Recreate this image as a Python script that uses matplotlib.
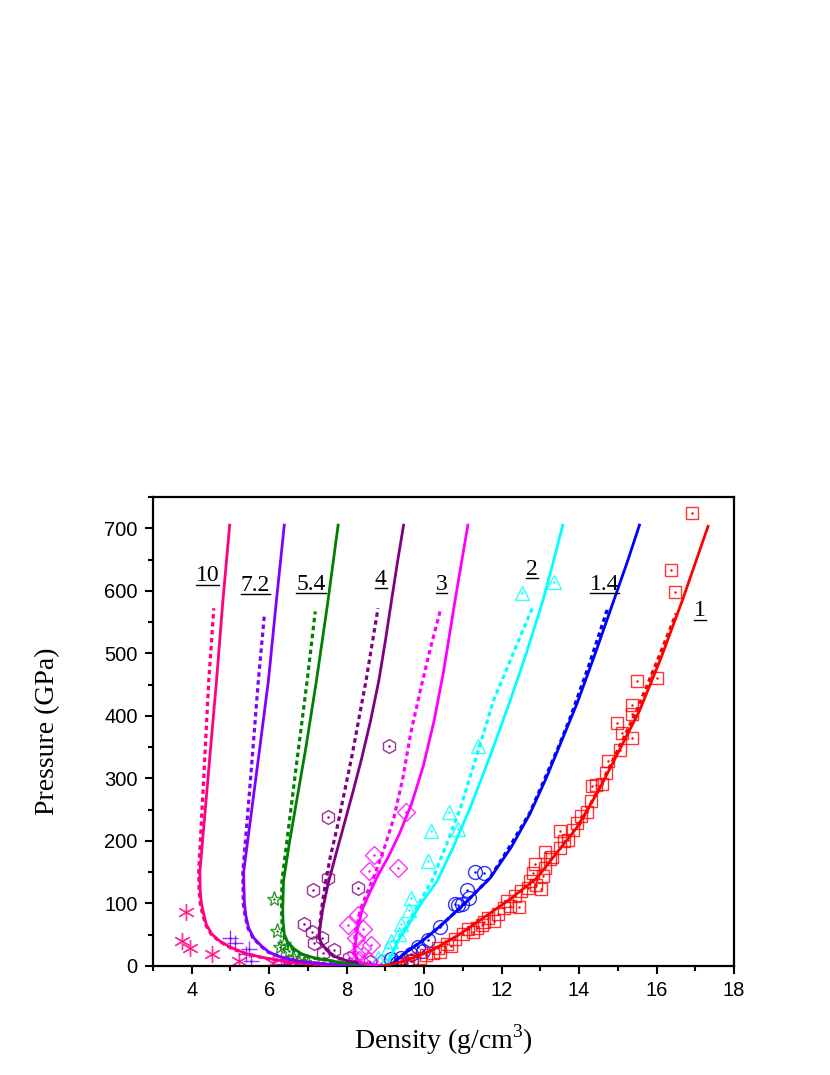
import numpy as np
import matplotlib.pyplot as plt
from matplotlib.lines import Line2D
from matplotlib.ticker import MultipleLocator

plt.rcParams['mathtext.fontset'] = 'custom'
plt.rcParams['mathtext.rm'] = 'Liberation Serif'

# porosity labels, colours and symbols for each series (m = 10 ... 1)
labels = ['10', '7.2', '5.4', '4', '3', '2', '1.4', '1']
colors = ['#FF0080', '#8000FF', '#008000', '#800080', '#FF00FF', '#00FFFF', '#0000FF', '#FF0000']
markers = [(6, 2, 0), '+', '*', 'h', 'D', '^', 'o', 's']
msizes = [12, 11, 11, 10, 9, 10, 10, 9]

# model curves (solid) - density g/cm3, pressure GPa
m10_rho = [8.9, 8.0, 7.2, 6.57, 5.88, 5.45, 5.03, 4.72, 4.52, 4.38, 4.31, 4.25, 4.22, 4.21, 4.35, 4.49, 4.64, 4.80, 4.98]
m10_p = [0, 1, 3, 6, 13, 19, 29, 40, 51, 66, 83, 100, 120, 150, 250, 350, 456, 580, 705]
m72_rho = [8.9, 7.5, 6.8, 6.31, 6.0, 5.80, 5.6, 5.47, 5.40, 5.36, 5.34, 5.55, 5.76, 5.98, 6.18, 6.39]
m72_p = [0, 3, 7, 14, 22, 32, 45, 61, 80, 100, 150, 250, 350, 456, 580, 705]
m54_rho = [8.9, 7.9, 7.16, 6.85, 6.65, 6.48, 6.39, 6.36, 6.35, 6.37, 6.53, 6.67, 6.95, 7.22, 7.51, 7.78]
m54_p = [0, 5, 13, 19, 27, 38, 51, 70, 90, 136, 200, 250, 350, 456, 580, 705]
m4_rho = [8.9, 8.03, 7.7, 7.5, 7.36, 7.29, 7.31, 7.38, 7.52, 7.73, 7.95, 8.17, 8.38, 8.61, 8.83, 9.0, 9.16, 9.31, 9.47]
m4_p = [0, 8, 15, 25, 35, 45, 60, 90, 131, 180, 230, 280, 330, 390, 456, 520, 585, 645, 705]
m3_rho = [8.9, 8.35, 8.20, 8.25, 8.40, 8.60, 8.81, 9.08, 9.36, 9.68, 9.98, 10.25, 10.50, 10.80, 11.13]
m3_p = [0, 5, 20, 50, 90, 118, 145, 175, 211, 260, 320, 390, 470, 585, 705]
m2_rho = [9.0, 9.06, 9.32, 9.62, 9.91, 10.34, 10.75, 11.19, 11.7, 12.22, 12.65, 13.07, 13.33, 13.58]
m2_p = [0, 3, 40, 68, 99, 136, 190, 253, 335, 424, 502, 585, 645, 705]
m14_rho = [9.1, 9.32, 9.58, 9.95, 10.42, 11.05, 11.71, 12.25, 12.73, 13.15, 13.55, 13.95, 14.42, 14.90, 15.24, 15.56]
m14_p = [0, 11, 24, 40, 64, 100, 141, 190, 243, 300, 360, 420, 500, 585, 645, 705]
m1_rho = [8.93, 9.5, 10.17, 10.9, 11.6, 12.2, 12.9, 13.4, 13.94, 14.5, 15.0, 15.56, 16.1, 16.67, 17.33]
m1_p = [0, 8, 24, 50, 80, 106, 140, 179, 221, 280, 340, 408, 490, 585, 703]

# second model (dotted)
m10d_rho = [8.9, 8.0, 7.2, 6.55, 5.85, 5.42, 5.0, 4.70, 4.50, 4.36, 4.28, 4.22, 4.19, 4.18, 4.31, 4.44, 4.57]
m10d_p = [0, 1, 3, 6, 13, 19, 29, 40, 51, 66, 83, 100, 120, 150, 300, 456, 572]
m72d_rho = [8.9, 7.5, 6.8, 6.3, 5.98, 5.78, 5.58, 5.45, 5.38, 5.33, 5.32, 5.52, 5.72, 5.88]
m72d_p = [0, 3, 7, 14, 22, 32, 45, 61, 80, 100, 150, 300, 456, 564]
m54d_rho = [8.9, 7.9, 7.1, 6.82, 6.6, 6.45, 6.36, 6.33, 6.32, 6.33, 6.66, 6.98, 7.19]
m54d_p = [0, 5, 13, 19, 27, 38, 51, 70, 90, 136, 300, 456, 567]
m4d_rho = [8.9, 8.0, 7.68, 7.5, 7.35, 7.29, 7.30, 7.35, 7.45, 7.58, 7.75, 7.95, 8.15, 8.33, 8.50, 8.81]
m4d_p = [0, 8, 15, 25, 35, 45, 60, 90, 131, 175, 220, 280, 340, 400, 456, 572]
m3d_rho = [8.9, 8.3, 8.18, 8.22, 8.35, 8.55, 8.75, 8.98, 9.22, 9.45, 9.65, 9.90, 10.15, 10.42]
m3d_p = [0, 5, 20, 50, 90, 120, 150, 190, 237, 300, 371, 440, 505, 569]
m2d_rho = [9.0, 9.05, 9.3, 9.58, 9.85, 10.2, 10.55, 10.94, 11.35, 11.79, 12.3, 12.79]
m2d_p = [0, 3, 40, 68, 99, 136, 190, 253, 335, 424, 500, 572]
m14d_rho = [9.1, 9.3, 9.58, 9.95, 10.42, 11.05, 11.7, 12.22, 12.73, 13.12, 13.46, 13.76, 14.25, 14.74]
m14d_p = [0, 11, 24, 40, 64, 100, 141, 192, 245, 300, 349, 395, 480, 572]
m1d_rho = [14.0, 14.5, 15.0, 15.5, 16.0, 16.51]
m1d_p = [225, 282, 345, 410, 485, 564]

# experimental points
e10_rho = [3.85, 3.75, 3.95, 4.52, 5.21, 6.11, 6.49, 6.7, 6.9]
e10_p = [87, 40, 29, 19, 8, 5, 3, 3, 3]
e72_rho = [4.98, 5.11, 5.47, 5.41, 5.54, 6.31, 6.39]
e72_p = [44, 37, 27, 19, 8, 10, 3]
e54_rho = [6.13, 6.21, 6.37, 6.29, 6.52, 6.62, 6.75, 7.01, 6.9]
e54_p = [107, 56, 35, 30, 24, 13, 8, 3, 5]
e4_rho = [9.09, 7.52, 7.52, 7.14, 8.29, 6.91, 7.11, 7.37, 7.16, 7.68, 7.39, 8.06, 8.60, 7.42]
e4_p = [351, 239, 141, 121, 125, 67, 54, 44, 37, 26, 21, 13, 6, 3]
e3_rho = [9.52, 8.70, 8.58, 9.32, 8.29, 8.04, 8.42, 8.24, 8.39, 8.63, 8.24, 8.32, 8.58, 8.9]
e3_p = [247, 178, 152, 157, 82, 66, 59, 45, 29, 34, 19, 10, 8, 4]
e2_rho = [12.53, 13.35, 11.40, 10.63, 10.19, 10.88, 10.09, 9.65, 9.60, 9.40, 9.35, 9.14, 9.06, 8.81, 9.0]
e2_p = [596, 614, 352, 247, 216, 219, 168, 109, 90, 67, 51, 40, 29, 13, 5]
e14_rho = [11.32, 11.55, 11.12, 11.17, 10.81, 10.99, 10.88, 10.42, 10.1, 9.83, 9.96, 9.65, 9.40, 9.65, 9.14, 9.3]
e14_p = [151, 148, 121, 109, 99, 99, 98, 62, 41, 30, 24, 19, 13, 8, 11, 4]
e1_rho = [16.92, 16.38, 16.49, 15.49, 16.0, 15.36, 15.38, 14.97, 15.12, 15.38, 15.05, 14.74, 14.69,
          14.33, 14.59, 14.30, 14.20, 13.94, 13.51, 13.84, 13.71, 13.51, 13.12, 13.25, 12.86, 13.12,
          13.07, 12.81, 12.73, 13.02, 12.69, 12.35, 12.15, 12.45, 12.22, 11.91, 11.66, 11.37, 11.14,
          11.01, 10.81, 10.6, 10.37, 10.22, 10.05, 9.9, 9.7, 9.55, 9.4, 10.4, 10.7, 11.5, 11.8, 12.05,
          11.25, 11.55, 12.5, 12.9, 13.3, 13.6, 14.05, 14.45]
e1_p = [724, 634, 598, 456, 460, 418, 403, 388, 372, 365, 346, 328, 309,
        288, 291, 264, 247, 229, 216, 218, 202, 189, 183, 171, 163, 157,
        144, 149, 136, 123, 125, 112, 104, 94, 96, 83, 77, 61, 59,
        51, 43, 35, 29, 21, 17, 12, 8, 5, 3, 22, 32, 66, 72, 92,
        55, 70, 120, 130, 175, 200, 240, 290]

solid = [(m10_rho, m10_p), (m72_rho, m72_p), (m54_rho, m54_p), (m4_rho, m4_p),
         (m3_rho, m3_p), (m2_rho, m2_p), (m14_rho, m14_p), (m1_rho, m1_p)]
dotted = [(m10d_rho, m10d_p), (m72d_rho, m72d_p), (m54d_rho, m54d_p), (m4d_rho, m4d_p),
          (m3d_rho, m3d_p), (m2d_rho, m2d_p), (m14d_rho, m14d_p), (m1d_rho, m1d_p)]
exper = [(e10_rho, e10_p), (e72_rho, e72_p), (e54_rho, e54_p), (e4_rho, e4_p),
         (e3_rho, e3_p), (e2_rho, e2_p), (e14_rho, e14_p), (e1_rho, e1_p)]

# label positions (density, pressure)
label_x = [4.41, 5.65, 7.08, 8.88, 10.45, 12.79, 14.66, 17.13]
label_y = [615, 600, 602, 610, 602, 626, 602, 559]

fig = plt.figure(figsize=(8.3, 10.75), dpi=100)
ax = fig.add_axes([0.1843, 0.1014, 0.700, 0.4363])

for i in range(len(labels)):
    c = colors[i]
    ex, ey = exper[i]
    ax.plot(ex, ey, linestyle='none', marker=markers[i], ms=msizes[i], mfc='none',
            mec=c, mew=1.0, alpha=0.8, zorder=2)
    ax.plot(ex, ey, linestyle='none', marker='.', ms=1.5, color=c, zorder=2)
    dx, dy = dotted[i]
    ax.plot(dx, dy, color=c, lw=2.3, linestyle=(0, (1.4, 1.1)), zorder=3)
    sx, sy = solid[i]
    ax.plot(sx, sy, color=c, lw=2.0, zorder=4, solid_joinstyle='round')

ax.set_xlim(3, 18)
ax.set_ylim(0, 750)
ax.xaxis.set_major_locator(MultipleLocator(2))
ax.xaxis.set_minor_locator(MultipleLocator(1))
ax.yaxis.set_major_locator(MultipleLocator(100))
ax.yaxis.set_minor_locator(MultipleLocator(50))
ax.tick_params(which='major', direction='out', length=6, width=1.5, labelsize=14.5, pad=5)
ax.tick_params(which='minor', direction='out', length=3.5, width=1.5)
ax.tick_params(top=False, right=False)
for lab in ax.get_xticklabels() + ax.get_yticklabels():
    lab.set_family('Liberation Sans')
for sp in ax.spines.values():
    sp.set_linewidth(1.6)

ax.set_xlabel('Density (g/cm$^3$)', family='Liberation Serif', fontsize=20)
ax.set_ylabel('Pressure (GPa)', family='Liberation Serif', fontsize=20)
ax.xaxis.set_label_coords(0.5, -0.12)
ax.yaxis.set_label_coords(-0.16, 0.5)

texts = []
for i in range(len(labels)):
    t = ax.text(label_x[i], label_y[i], labels[i], family='Liberation Serif', fontsize=17,
                ha='center', va='baseline')
    texts.append(t)

# underline the labels
fig.canvas.draw()
rend = fig.canvas.get_renderer()
inv = fig.transFigure.inverted()
for t in texts:
    bb = t.get_window_extent(renderer=rend)
    yb = bb.y0 + 1.5
    p0 = inv.transform((bb.x0, yb))
    p1 = inv.transform((bb.x1, yb))
    fig.add_artist(Line2D([p0[0], p1[0]], [p0[1], p1[1]], color='black', lw=1.0))

fig.savefig('out.png', dpi=100)
